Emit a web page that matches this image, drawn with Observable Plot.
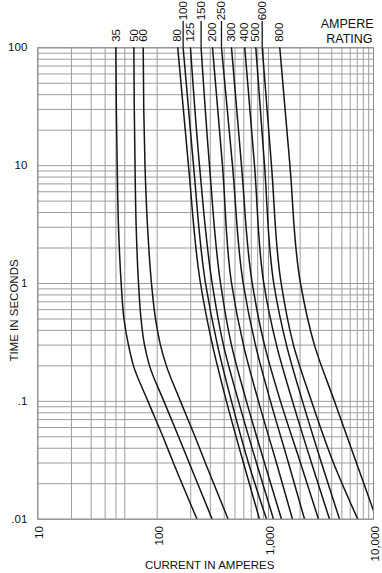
<!DOCTYPE html>
<html><head><meta charset="utf-8">
<script src="https://cdn.jsdelivr.net/npm/d3@7"></script>
<script src="https://cdn.jsdelivr.net/npm/@observablehq/plot@0.6"></script>
<style>html,body{margin:0;padding:0;background:#fff} svg{display:block}</style>
</head><body><div id="chart"></div>
<script>
// Time levels (seconds) at which the low-rating curves were read
const timesFine = [100, 30, 10, 3, 1, 0.5, 0.3, 0.2, 0.1, 0.05, 0.03, 0.01];
// Time levels (seconds) at which the other curves were read
const times = [100, 10, 1, 0.3, 0.1, 0.03, 0.01];
// Current (A) at each time level, per ampere rating
const amps35  = [49.9, 50.4, 51.3, 52.7, 55.7, 59.0, 63.6, 68.8, 86.5, 112.7, 140, 228];
const amps50  = [69.2, 69.7, 70.5, 71.8, 74.5, 77.5, 81.9, 88.6, 115, 155.7, 194, 312];
const amps60  = [80.2, 80.9, 82.5, 85.9, 91.4, 97.4, 107, 121, 162, 219, 271, 434];
const amps80  = [153, 191, 245, 314, 419, 596, 830];
const amps100 = [171, 212, 272, 348, 465, 661, 960];
const amps125 = [199, 240, 312, 394, 538, 780, 1116];
const amps150 = [248, 295, 371, 465, 634, 921, 1330];
const amps200 = [314, 386, 466, 596, 813, 1192, 1693];
const amps250 = [378, 475, 593, 764, 1045, 1550, 2203];
const amps300 = [465, 572, 715, 921, 1301, 2018, 2994];
const amps400 = [612, 749, 908, 1192, 1693, 2568, 3810];
const amps500 = [769, 921, 1123, 1484, 2108, 3197, 4746];
const amps600 = [878, 1068, 1321, 1730, 2570, 4160, 7080];
const amps800 = [1281, 1600, 2018, 2740, 4253, 6887, 10700];

const ratings = [35, 50, 60, 80, 100, 125, 150, 200, 250, 300, 400, 500, 600, 800];
const ampsByRating = [amps35, amps50, amps60, amps80, amps100, amps125, amps150, amps200, amps250, amps300, amps400, amps500, amps600, amps800];
const raisedRatings = [100, 150, 250, 600];

const xTickValues = [10, 100, 1000, 10000];
const xTickLabels = ["10", "100", "1,000", "10,000"];
const yTickValues = [100, 10, 1, 0.1, 0.01];
const yTickLabels = ["100", "10", "1", ".1", ".01"];
const xGrid = [10, 20, 30, 40, 50, 60, 100, 200, 300, 400, 500, 600, 700, 800, 900,
  1000, 2000, 3000, 4000, 5000, 6000, 7000, 8000, 9000, 10000];
const yGrid = [0.01,0.02,0.03,0.04,0.05,0.06,0.07,0.08,0.09,
  0.1,0.2,0.3,0.4,0.5,0.6,0.7,0.8,0.9,
  1,2,3,4,5,6,7,8,9,
  10,20,30,40,50,60,70,80,90,100];

const rows = [];
ratings.forEach((r, i) => {
  const ts = ampsByRating[i].length === timesFine.length ? timesFine : times;
  ampsByRating[i].forEach((a, j) => rows.push({rating: r, a, t: ts[j]}));
});
const tops = ratings.map((r, i) => ({rating: r, a: ampsByRating[i][0], raised: raisedRatings.includes(r)}));

const W = 382, H = 573;
const font = "'Liberation Sans', Arial, Helvetica, sans-serif";
const ink = "#111";

const chart = Plot.plot({
  width: W, height: H,
  marginTop: 47.3, marginBottom: 54.3, marginLeft: 37.3, marginRight: 9,
  style: {fontFamily: font, background: "#fff", color: ink},
  x: {type: "log", domain: [10, 60, 100, 1000, 10000], range: [37.3, 124.3, 156.7, 268, 373], axis: null},
  y: {type: "log", domain: [0.01, 100], axis: null},
  marks: [
    Plot.ruleX(xGrid, {stroke: "#9c9c9c", strokeWidth: 1}),
    Plot.ruleY(yGrid, {stroke: "#9c9c9c", strokeWidth: 1}),
    Plot.frame({stroke: "#8a8a8a", strokeWidth: 1}),
    Plot.line(rows, {x: "a", y: "t", z: "rating", curve: "monotone-y", stroke: "#151515", strokeWidth: 1.5, clip: true}),
    // leader lines for raised labels
    Plot.ruleX(tops.filter(d => d.raised), {x: "a", y1: 100, y2: 167, stroke: "#151515", strokeWidth: 1.3}),
    // rating labels
    Plot.text(tops.filter(d => !d.raised), {x: "a", frameAnchor: "top", dy: -6, rotate: -90, textAnchor: "start", lineAnchor: "middle", text: d => String(d.rating), fontSize: 11.5, fill: ink}),
    Plot.text(tops.filter(d => d.raised), {x: "a", frameAnchor: "top", dy: -27.5, rotate: -90, textAnchor: "start", lineAnchor: "middle", text: d => String(d.rating), fontSize: 11.5, fill: ink}),
    Plot.text(["AMPERE"], {frameAnchor: "top-right", dy: -24, dx: 0, textAnchor: "end", lineAnchor: "middle", text: d => d, fontSize: 12.5, fill: ink}),
    Plot.text(["RATING"], {frameAnchor: "top-right", dy: -9, dx: -1, textAnchor: "end", lineAnchor: "middle", text: d => d, fontSize: 12.5, fill: ink}),
    // tick labels
    Plot.text(xTickValues, {x: d => d, frameAnchor: "bottom", dy: 7, dx: 2, rotate: -90, textAnchor: "end", lineAnchor: "middle", text: (d, i) => xTickLabels[i], fontSize: 11.5, fill: ink}),
    Plot.text(yTickValues, {y: d => d, frameAnchor: "left", dx: -10.5, textAnchor: "end", lineAnchor: "middle", text: (d, i) => yTickLabels[i], fontSize: 11.5, fill: ink}),
    // axis titles
    Plot.text(["TIME IN SECONDS"], {frameAnchor: "left", dx: -23, dy: 27, rotate: -90, textAnchor: "middle", lineAnchor: "middle", text: d => d, fontSize: 11.5, fill: ink}),
    Plot.text(["CURRENT IN AMPERES"], {frameAnchor: "bottom", dy: 46, dx: 4, textAnchor: "middle", lineAnchor: "middle", text: d => d, fontSize: 11.5, fill: ink})
  ]
});
document.getElementById("chart").appendChild(chart);
</script>
</body></html>
